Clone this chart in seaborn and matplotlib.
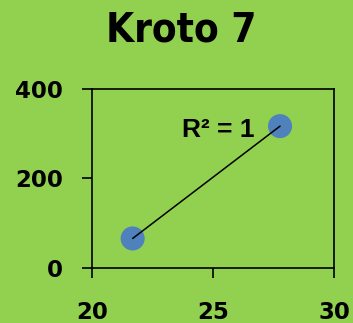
import matplotlib
matplotlib.use("Agg")
import matplotlib.pyplot as plt
import seaborn as sns
import pandas as pd

# values
temps = [21.68, 27.77]
values = [66, 317]
title = "Kroto 7"
r2_label = "R\u00b2 = 1"
x_ticks = [20, 25, 30]
y_ticks = [0, 200, 400]

green = "#92D050"
blue = "#4F81BD"

df = pd.DataFrame({"x": temps, "y": values})

sns.set_style("ticks")
plt.rcParams["font.family"] = ["DejaVu Sans"]
plt.rcParams["text.color"] = "black"
plt.rcParams["xtick.color"] = "black"
plt.rcParams["ytick.color"] = "black"

fig = plt.figure(figsize=(3.53, 3.23), dpi=100, facecolor=green)
ax = fig.add_axes([0.2606, 0.1703, 0.6856, 0.5542])
ax.set_facecolor(green)

sns.scatterplot(data=df, x="x", y="y", ax=ax, color=blue, s=300, edgecolor="none", zorder=2)
sns.lineplot(data=df, x="x", y="y", ax=ax, color="black", linewidth=1.1, zorder=3)

ax.set_xlim(20, 30)
ax.set_ylim(0, 400)
ax.set_xticks(x_ticks)
ax.set_yticks(y_ticks)
ax.set_xlabel("")
ax.set_ylabel("")
for s in ax.spines.values():
    s.set_visible(True)
    s.set_color("black")
    s.set_linewidth(1.2)
ax.tick_params(axis="x", length=7, width=1.2, pad=17, labelsize=16.5, labelcolor="black")
ax.tick_params(axis="y", length=7, width=1.2, pad=14, labelsize=16.5, labelcolor="black")
for lab in ax.get_xticklabels() + ax.get_yticklabels():
    lab.set_fontweight("heavy")

ax.text(0.67, 0.77, r2_label, transform=ax.transAxes, ha="right", va="center",
        fontsize=19, fontweight="bold", color="black",
        family=["Liberation Sans", "DejaVu Sans"])

fig.text(0.513, 0.905, title, ha="center", va="center", fontsize=29, fontweight="bold",
         fontstretch="condensed", color="black", family=["DejaVu Sans"])

fig.savefig("out.png", dpi=100, facecolor=green)
